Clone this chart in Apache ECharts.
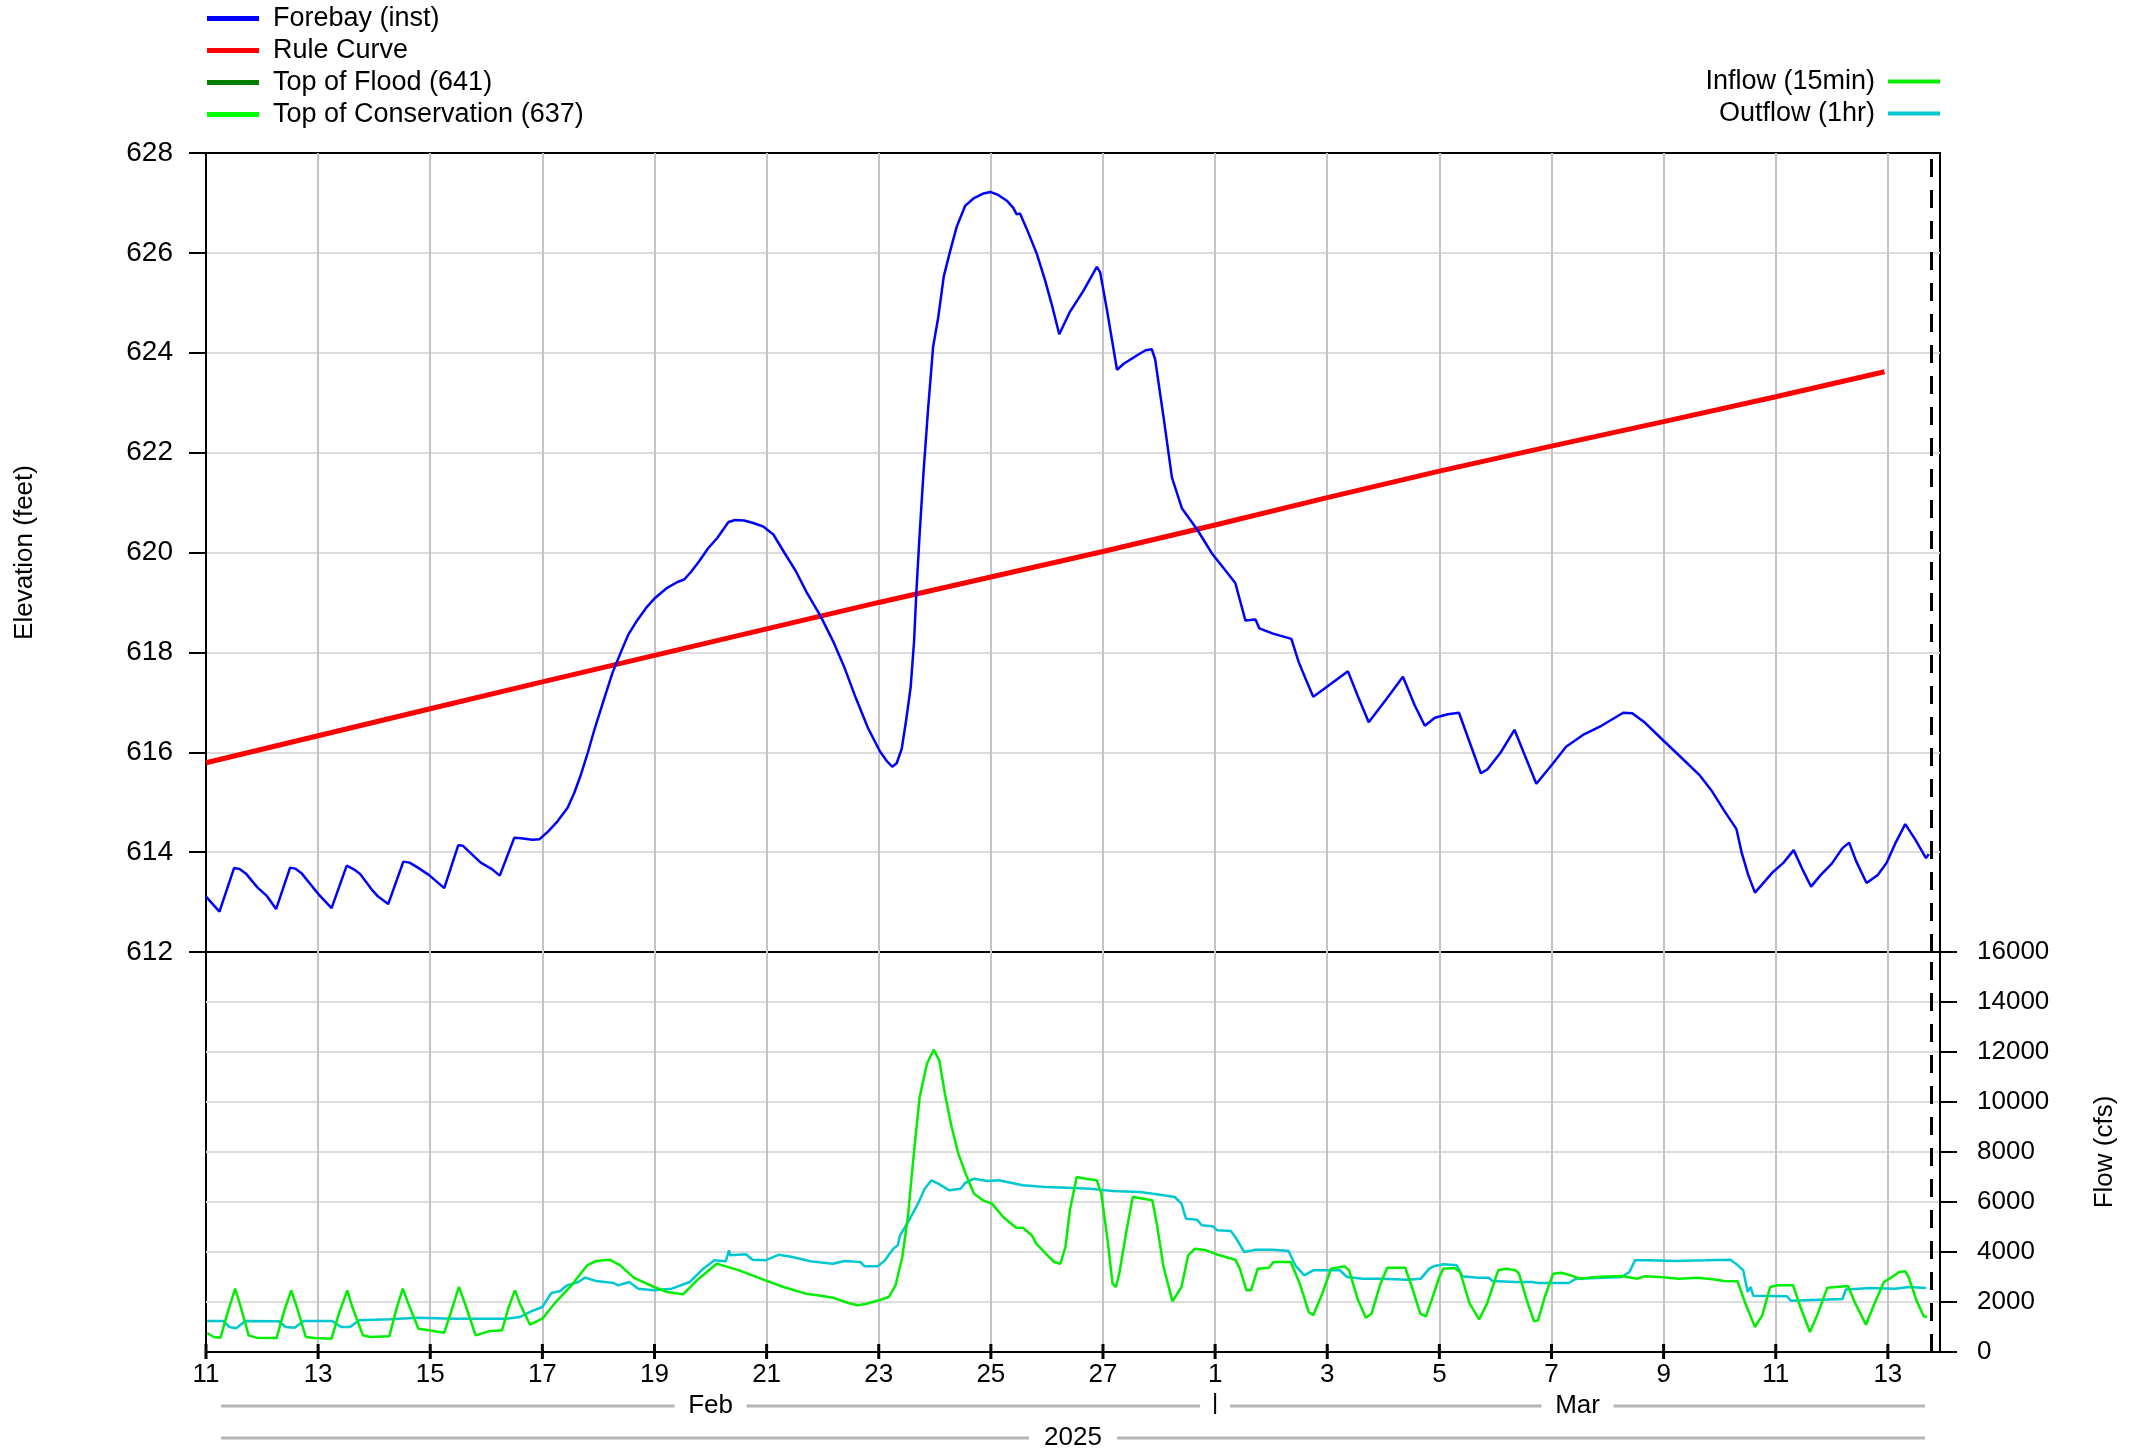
<!DOCTYPE html>
<html>
<head>
<meta charset="utf-8">
<script src="https://cdn.jsdelivr.net/npm/echarts@6/dist/echarts.min.js"></script>
<style>
html,body{margin:0;padding:0;background:#fff;}
#chart{width:2141px;height:1454px;}
</style>
</head>
<body>
<div id="chart"></div>
<script>
// ---- data (x = days since Feb 11 2025 00:00) ----
const XMAX = 30.93;          // right edge of the time axis
const NOW_DAY = 30.765;      // dashed "now" marker
const xTickLabels = ['11','13','15','17','19','21','23','25','27','1','3','5','7','9','11','13'];
const monthNames = ['Feb','Mar'];
const monthStarts = [0, 18];
const yearLabel = '2025';

const forebayDays = [0,0.24,0.5,0.6,0.72,0.92,1.08,1.25,1.5,1.59,1.71,1.91,2.03,2.24,2.51,2.63,2.75,2.95,3.07,3.25,3.52,3.63,3.78,3.98,4.25,4.5,4.58,4.9,5.1,5.24,5.5,5.62,5.82,5.95,6.1,6.25,6.45,6.57,6.69,6.81,6.93,7.09,7.25,7.41,7.53,7.69,7.85,8.01,8.21,8.41,8.53,8.65,8.8,8.96,9.12,9.32,9.44,9.6,9.76,9.94,10.12,10.32,10.52,10.72,10.96,11.2,11.39,11.59,11.81,12.02,12.14,12.24,12.32,12.41,12.49,12.57,12.63,12.67,12.73,12.8,12.88,12.97,13.06,13.16,13.27,13.39,13.54,13.69,13.87,13.99,14.13,14.28,14.4,14.46,14.52,14.64,14.82,14.97,15.09,15.22,15.41,15.65,15.89,15.95,16.07,16.25,16.37,16.61,16.76,16.87,16.93,17.08,17.23,17.41,17.68,17.95,18.1,18.36,18.54,18.72,18.79,19.02,19.36,19.49,19.61,19.75,19.8,20.08,20.37,20.55,20.74,21.06,21.35,21.56,21.74,21.92,22.15,22.35,22.54,22.74,22.86,23.09,23.34,23.52,23.73,24.03,24.26,24.58,24.89,25.28,25.44,25.67,25.99,26.3,26.65,26.85,27.08,27.3,27.39,27.51,27.63,27.94,28.14,28.32,28.47,28.63,28.8,29.0,29.19,29.31,29.43,29.62,29.82,29.98,30.13,30.31,30.49,30.68,30.73];
const forebayElev = [613.11,612.81,613.68,613.66,613.56,613.29,613.13,612.86,613.69,613.67,613.57,613.29,613.13,612.88,613.73,613.66,613.56,613.26,613.11,612.96,613.81,613.79,613.69,613.54,613.28,614.14,614.13,613.79,613.66,613.53,614.29,614.28,614.25,614.26,614.41,614.59,614.89,615.19,615.56,615.99,616.46,617.03,617.59,618.03,618.35,618.64,618.89,619.09,619.28,619.41,619.46,619.61,619.83,620.09,620.29,620.61,620.65,620.64,620.59,620.52,620.36,619.99,619.63,619.19,618.73,618.19,617.69,617.09,616.48,616.02,615.83,615.71,615.78,616.07,616.65,617.31,618.22,619.18,620.38,621.63,622.87,624.12,624.70,625.53,626.02,626.52,626.94,627.09,627.19,627.22,627.16,627.05,626.90,626.77,626.79,626.48,625.98,625.44,624.95,624.37,624.82,625.24,625.72,625.61,624.86,623.66,623.78,623.95,624.05,624.07,623.87,622.71,621.50,620.88,620.46,619.97,619.76,619.39,618.64,618.66,618.48,618.38,618.27,617.81,617.48,617.11,617.15,617.38,617.62,617.11,616.60,617.07,617.51,616.94,616.53,616.69,616.76,616.79,616.20,615.58,615.66,615.99,616.45,615.95,615.37,615.78,616.11,616.36,616.53,616.79,616.78,616.59,616.24,615.91,615.53,615.24,614.83,614.46,614.00,613.54,613.19,613.59,613.79,614.04,613.67,613.31,613.54,613.77,614.08,614.19,613.83,613.38,613.54,613.79,614.17,614.56,614.25,613.88,613.96];

const ruleDays = [0,2,4,6,8,10,12,14,16,18,20,22,24,26,28,29.94];
const ruleElev = [615.79,616.33,616.87,617.41,617.94,618.47,619.0,619.51,620.02,620.55,621.1,621.63,622.13,622.62,623.12,623.62];

const topOfFlood = 641;
const topOfConservation = 637;

const inflowDays = [0.02,0.14,0.26,0.38,0.52,0.62,0.76,0.9,1.26,1.38,1.52,1.62,1.78,1.94,2.24,2.37,2.52,2.61,2.8,2.93,3.27,3.39,3.51,3.61,3.79,3.97,4.25,4.38,4.51,4.61,4.81,5.04,5.28,5.4,5.51,5.6,5.78,6.0,6.24,6.52,6.8,6.96,7.2,7.39,7.63,7.99,8.23,8.51,8.79,9.11,9.51,9.98,10.3,10.7,10.91,11.18,11.46,11.63,11.78,12.0,12.18,12.3,12.42,12.52,12.62,12.73,12.86,12.98,13.08,13.18,13.3,13.42,13.55,13.7,13.86,14.02,14.22,14.45,14.57,14.73,14.81,15.01,15.13,15.24,15.33,15.41,15.53,15.69,15.89,15.97,16.09,16.17,16.23,16.29,16.41,16.53,16.88,16.96,17.08,17.24,17.4,17.52,17.64,17.84,18.08,18.36,18.44,18.56,18.64,18.76,18.96,19.04,19.35,19.51,19.67,19.75,19.91,20.07,20.31,20.39,20.55,20.69,20.79,20.95,21.07,21.39,21.51,21.66,21.76,21.86,22.0,22.07,22.27,22.37,22.54,22.71,22.85,23.05,23.19,23.36,23.42,23.56,23.69,23.76,23.88,24.03,24.17,24.34,24.51,24.78,25.25,25.53,25.66,25.93,26.27,26.61,26.88,27.08,27.32,27.46,27.63,27.76,27.9,28.03,28.31,28.44,28.61,28.75,28.92,29.29,29.42,29.61,29.76,29.93,30.03,30.2,30.31,30.37,30.51,30.64,30.7];
const inflowCfs = [760,600,573,1533,2533,1800,667,573,560,1533,2467,1800,600,560,533,1533,2467,1800,667,600,627,1667,2533,1933,933,867,773,1667,2600,2000,667,827,867,1800,2467,1933,1093,1333,2000,2667,3467,3640,3693,3467,2973,2600,2400,2307,2933,3533,3267,2867,2600,2333,2267,2173,1960,1867,1933,2067,2200,2667,3800,5400,7800,10200,11533,12093,11667,10333,9000,7933,7133,6333,6067,5933,5400,4973,4973,4667,4333,3867,3600,3533,4200,5667,7000,6933,6867,6333,4333,2733,2600,3133,4733,6200,6067,5133,3400,2027,2600,3867,4133,4067,3867,3693,3333,2467,2467,3333,3373,3600,3600,2733,1600,1467,2333,3333,3427,3267,2067,1373,1533,2733,3373,3373,2600,1533,1427,2067,3000,3333,3360,3200,1933,1307,1933,3267,3333,3267,3133,2067,1227,1267,2200,3133,3173,3067,2933,3000,3040,2933,3027,3000,2933,2973,2907,2840,2827,1933,1000,1467,2600,2667,2667,1800,800,1533,2573,2640,1933,1093,1933,2800,2933,3200,3227,3000,2067,1427,1400];

const outflowDays = [0.02,0.3,0.42,0.54,0.7,1.3,1.42,1.58,1.74,2.25,2.41,2.57,2.73,3.29,3.77,4.41,4.72,5.36,5.6,5.8,6.0,6.16,6.32,6.44,6.64,6.76,6.96,7.27,7.35,7.55,7.71,7.99,8.31,8.63,8.87,9.07,9.27,9.33,9.35,9.63,9.75,9.98,10.22,10.46,10.78,11.18,11.39,11.67,11.75,11.98,12.1,12.26,12.34,12.38,12.54,12.7,12.82,12.94,13.06,13.26,13.46,13.54,13.7,13.94,14.14,14.57,14.97,15.37,15.77,16.17,16.65,16.96,17.28,17.4,17.48,17.68,17.76,17.96,18.04,18.28,18.36,18.52,18.72,19.04,19.31,19.43,19.59,19.75,20.23,20.35,20.63,20.95,21.43,21.67,21.82,21.9,22.07,22.31,22.41,22.68,22.88,22.95,23.36,23.66,23.76,24.31,24.44,24.92,25.25,25.39,25.49,25.73,26.2,26.75,27.19,27.29,27.42,27.5,27.55,27.6,28.2,28.27,28.64,29.19,29.25,29.69,30.13,30.37,30.68];
const outflowCfs = [1240,1240,1000,947,1240,1227,1000,973,1240,1240,1000,1000,1267,1307,1373,1333,1333,1333,1400,1627,1800,2360,2440,2667,2800,2973,2840,2760,2667,2800,2533,2467,2533,2800,3333,3667,3627,4067,3867,3907,3693,3667,3893,3800,3627,3533,3640,3600,3427,3427,3640,4133,4267,4667,5267,5933,6533,6867,6733,6467,6533,6760,6933,6840,6867,6667,6600,6573,6533,6440,6400,6307,6200,5933,5333,5293,5067,5027,4867,4840,4600,4000,4093,4093,4040,3467,3067,3267,3267,3000,2933,2933,2893,2933,3333,3427,3507,3467,3027,2973,2973,2840,2800,2800,2760,2760,2933,2973,3000,3200,3667,3667,3640,3667,3693,3533,3267,2400,2600,2250,2230,2050,2080,2120,2500,2560,2530,2600,2560];

// ---- helpers ----
function zip(xs, ys){ return xs.map((x,i)=>[x, ys[i]]); }
const FONT = 'Liberation Sans, Arial, sans-serif';
const GRID_L = 206, GRID_R = 201;
const TOP_GRID_TOP = 153, TOP_GRID_H = 799;
const BOT_GRID_TOP = 952, BOT_GRID_H = 400;

const chart = echarts.init(document.getElementById('chart'), null, {renderer:'canvas'});

const dashed = {
  silent: true, symbol: 'none', label: {show:false},
  lineStyle: {color:'#000', width:3, type:[18,13]},
  data: [{xAxis: NOW_DAY}]
};

const xCommon = {
  type: 'value', min: 0, max: XMAX, interval: 2,
  splitLine: {show:true, showMinLine:false, showMaxLine:false, lineStyle:{color:'#c4c4c4', width:2}}
};

const gridCommon = {left: GRID_L, right: GRID_R, show:true, borderColor:'#000', borderWidth:2,
  backgroundColor:'transparent', containLabel:false, outerBoundsMode:'none'};

const option = {
  animation: false,
  backgroundColor: '#fff',
  textStyle: {fontFamily: FONT},
  grid: [
    Object.assign({}, gridCommon, {top: TOP_GRID_TOP, height: TOP_GRID_H}),
    Object.assign({}, gridCommon, {top: BOT_GRID_TOP, height: BOT_GRID_H})
  ],
  xAxis: [
    Object.assign({}, xCommon, {gridIndex:0, axisLine:{show:false, onZero:false}, axisTick:{show:false}, axisLabel:{show:false}}),
    Object.assign({}, xCommon, {gridIndex:1,
      axisLine:{show:true, onZero:false, lineStyle:{color:'#000', width:2}},
      axisTick:{show:false},
      axisLabel:{show:true, fontSize:26, color:'#000', fontFamily:FONT, margin:10,
        formatter: v => (Math.abs(v-Math.round(v))<1e-6 && Math.round(v)%2===0) ? (xTickLabels[Math.round(v)/2]||'') : ''}
    })
  ],
  yAxis: [
    {gridIndex:0, type:'value', min:612, max:628, interval:2, position:'left',
      name:'Elevation (feet)', nameLocation:'middle', nameGap:168, nameRotate:90,
      nameTextStyle:{fontSize:26, color:'#000', fontFamily:FONT},
      axisLine:{show:true, onZero:false, lineStyle:{color:'#000', width:2}},
      axisTick:{show:true, inside:false, length:17, lineStyle:{color:'#000', width:2}},
      axisLabel:{fontSize:28, color:'#000', fontFamily:FONT, margin:33, formatter: v => String(v)},
      splitLine:{show:true, showMinLine:false, showMaxLine:false, lineStyle:{color:'#dcdcdc', width:2}}
    },
    {gridIndex:1, type:'value', min:0, max:16000, interval:2000, position:'right',
      name:'Flow (cfs)', nameLocation:'middle', nameGap:152, nameRotate:90,
      nameTextStyle:{fontSize:26, color:'#000', fontFamily:FONT},
      axisLine:{show:true, onZero:false, lineStyle:{color:'#000', width:2}},
      axisTick:{show:true, inside:false, length:17, lineStyle:{color:'#000', width:2}},
      axisLabel:{fontSize:26, color:'#000', fontFamily:FONT, margin:37, formatter: v => String(v)},
      splitLine:{show:true, showMinLine:false, showMaxLine:false, lineStyle:{color:'#dcdcdc', width:2}}
    }
  ],
  legend: [
    {data:['Forebay (inst)','Rule Curve','Top of Flood (641)','Top of Conservation (637)'],
      orient:'vertical', left:207, top:5, padding:0, itemWidth:52, itemHeight:5, itemGap:5, icon:'rect',
      textStyle:{fontSize:27, color:'#000', fontFamily:FONT, lineHeight:27, padding:[0,0,0,9]}, selectedMode:false},
    {data:['Inflow (15min)','Outflow (1hr)'],
      orient:'vertical', right:201, top:68, padding:0, itemWidth:52, itemHeight:4, itemGap:5, icon:'rect', align:'right',
      textStyle:{fontSize:27, color:'#000', fontFamily:FONT, lineHeight:27, padding:[0,8,0,0]}, selectedMode:false}
  ],
  series: [
    {name:'Forebay (inst)', type:'line', xAxisIndex:0, yAxisIndex:0, data: zip(forebayDays, forebayElev),
      showSymbol:false, symbol:'none', color:'#0000ff', lineStyle:{color:'#0000ff', width:2.5}, z:5, markLine: dashed},
    {name:'Rule Curve', type:'line', xAxisIndex:0, yAxisIndex:0, data: zip(ruleDays, ruleElev),
      showSymbol:false, symbol:'none', color:'#ff0000', lineStyle:{color:'#ff0000', width:5}, z:4},
    {name:'Top of Flood (641)', type:'line', xAxisIndex:0, yAxisIndex:0, data: [[0, topOfFlood],[XMAX, topOfFlood]],
      showSymbol:false, symbol:'none', color:'#008000', lineStyle:{color:'#008000', width:5}},
    {name:'Top of Conservation (637)', type:'line', xAxisIndex:0, yAxisIndex:0, data: [[0, topOfConservation],[XMAX, topOfConservation]],
      showSymbol:false, symbol:'none', color:'#00ff00', lineStyle:{color:'#00ff00', width:5}},
    {name:'Outflow (1hr)', type:'line', xAxisIndex:1, yAxisIndex:1, data: zip(outflowDays, outflowCfs),
      showSymbol:false, symbol:'none', color:'#00c8d0', lineStyle:{color:'#00c8d0', width:2.5}, z:3},
    {name:'Inflow (15min)', type:'line', xAxisIndex:1, yAxisIndex:1, data: zip(inflowDays, inflowCfs),
      showSymbol:false, symbol:'none', color:'#00ee00', lineStyle:{color:'#00ee00', width:2.5}, z:4, markLine: dashed}
  ]
};
chart.setOption(option);

// ---- axis tick marks and month / year annotation (x positions from the axis scale) ----
function px(v){ return chart.convertToPixel({xAxisIndex:1}, v); }
const axisY = BOT_GRID_TOP + BOT_GRID_H;
const graphics = [];
for (let i = 0; i < xTickLabels.length; i++){
  const x = px(i * 2);
  graphics.push({type:'rect', z:100, shape:{x:x-1.5, y:axisY-8, width:3, height:15}, style:{fill:'#000'}, silent:true});
}
const gray = {stroke:'#b4b4b4', lineWidth:3};
const yMonth = 1406, yYear = 1438;
const leftPx = px(0), rightPx = px(XMAX);
function labelWithLines(text, x0, x1, y, halfGap){
  const c = (x0 + x1) / 2;
  graphics.push({type:'line', shape:{x1:x0+15, y1:y, x2:c-halfGap, y2:y}, style:gray, silent:true});
  graphics.push({type:'line', shape:{x1:c+halfGap, y1:y, x2:x1-15, y2:y}, style:gray, silent:true});
  graphics.push({type:'text', x:c, y:y, style:{text:text, fill:'#000', font:'26px ' + FONT, align:'center', verticalAlign:'middle'}, silent:true});
}
for (let i = 0; i < monthNames.length; i++){
  const a = px(monthStarts[i]);
  const b = (i + 1 < monthStarts.length) ? px(monthStarts[i+1]) : rightPx;
  labelWithLines(monthNames[i], a, b, yMonth, 36);
  if (i > 0){
    graphics.push({type:'line', shape:{x1:a, y1:yMonth-13, x2:a, y2:yMonth+8}, style:{stroke:'#000', lineWidth:2}, silent:true});
  }
}
labelWithLines(yearLabel, leftPx, rightPx, yYear, 44);
chart.setOption({graphic: graphics});
</script>
</body>
</html>
